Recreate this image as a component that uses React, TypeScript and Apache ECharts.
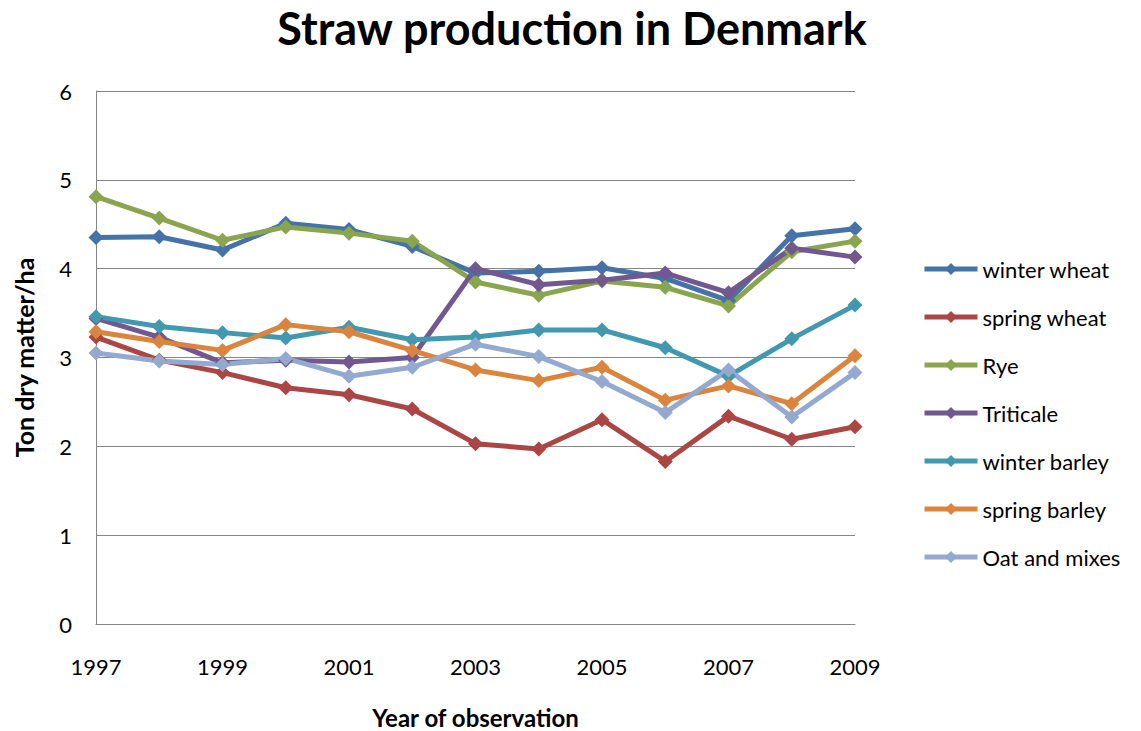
import React, { useEffect, useRef } from "react";
import * as echarts from "echarts";

const years = ["1997","1998","1999","2000","2001","2002","2003","2004","2005","2006","2007","2008","2009"];
const winterWheat = [4.35, 4.36, 4.21, 4.51, 4.44, 4.25, 3.95, 3.97, 4.01, 3.89, 3.64, 4.37, 4.45];
const springWheat = [3.23, 2.97, 2.83, 2.66, 2.58, 2.42, 2.03, 1.97, 2.30, 1.83, 2.34, 2.08, 2.22];
const rye = [4.81, 4.57, 4.32, 4.47, 4.40, 4.31, 3.85, 3.70, 3.86, 3.79, 3.58, 4.19, 4.31];
const triticale = [3.44, 3.23, 2.94, 2.97, 2.95, 3.00, 4.00, 3.82, 3.87, 3.95, 3.73, 4.23, 4.13];
const winterBarley = [3.46, 3.35, 3.28, 3.22, 3.34, 3.20, 3.23, 3.31, 3.31, 3.11, 2.79, 3.21, 3.59];
const springBarley = [3.29, 3.18, 3.08, 3.37, 3.29, 3.08, 2.86, 2.74, 2.89, 2.52, 2.68, 2.48, 3.02];
const oatMixes = [3.05, 2.96, 2.92, 2.99, 2.79, 2.89, 3.15, 3.01, 2.73, 2.38, 2.86, 2.33, 2.83];

const seriesNames = ["winter wheat", "spring wheat", "Rye", "Triticale", "winter barley", "spring barley", "Oat and mixes"];
const seriesData = [winterWheat, springWheat, rye, triticale, winterBarley, springBarley, oatMixes];
const colors = ["#4572A7", "#AA4643", "#89A54E", "#71588F", "#4198AF", "#DB843D", "#93A9CF"];

const FONT = "Lato";

export default function App() {
  const ref = useRef<HTMLDivElement>(null);
  useEffect(() => {
    const chart = echarts.init(ref.current!, null, { renderer: "svg" });
    chart.setOption({
      animation: false,
      backgroundColor: "#ffffff",
      title: {
        text: "Straw production in Denmark",
        left: 567,
        textAlign: "center",
        top: 0,
        textStyle: { fontFamily: FONT, fontWeight: "bold", fontSize: 45, color: "#000" },
      },
      grid: { left: 96, right: 286, top: 91, bottom: 107, containLabel: false, outerBoundsMode: "none" },
      legend: {
        orient: "vertical",
        left: 922,
        top: 258,
        padding: 0,
        itemWidth: 53,
        itemHeight: 15,
        itemGap: 26,
        lineStyle: { width: 5 },
        textStyle: { fontFamily: FONT, fontSize: 22, lineHeight: 22, color: "#000" },
        data: seriesNames,
      },
      xAxis: {
        type: "category",
        data: years,
        boundaryGap: false,
        name: "Year of observation",
        nameLocation: "middle",
        nameGap: 81,
        nameTextStyle: { fontFamily: FONT, fontWeight: "bold", fontSize: 24, lineHeight: 24, color: "#000" },
        axisLine: { lineStyle: { color: "#868686", width: 1 } },
        axisTick: { show: false },
        axisLabel: { interval: 1, fontFamily: FONT, fontSize: 22, color: "#000", margin: 31 },
        splitLine: { show: false },
      },
      yAxis: {
        type: "value",
        min: 0,
        max: 6,
        interval: 1,
        name: "Ton dry matter/ha",
        nameLocation: "middle",
        nameGap: 60,
        nameTextStyle: { fontFamily: FONT, fontWeight: "bold", fontSize: 25, color: "#000" },
        axisLine: { show: true, lineStyle: { color: "#868686", width: 1 } },
        axisTick: { show: false },
        axisLabel: { fontFamily: FONT, fontSize: 22, color: "#000", margin: 24 },
        splitLine: { show: true, lineStyle: { color: "#868686", width: 1 } },
      },
      series: seriesNames.map((name, i) => ({
        name,
        type: "line",
        data: seriesData[i],
        symbol: "diamond",
        symbolSize: 15,
        showSymbol: true,
        lineStyle: { width: 5, color: colors[i] },
        itemStyle: { color: colors[i] },
        emphasis: { disabled: true },
      })),
    });
    return () => chart.dispose();
  }, []);
  return <div ref={ref} style={{ width: 1141, height: 731, position: "absolute", left: 0, top: 0 }} />;
}
